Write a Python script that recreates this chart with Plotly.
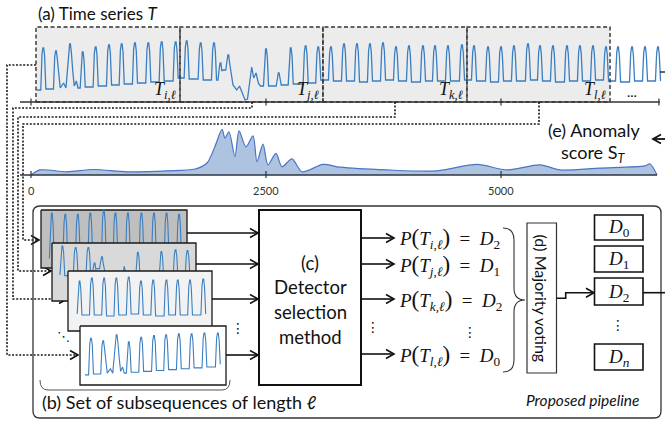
import plotly.graph_objects as go

W, H = 665, 424

# ---------------- data ----------------
# (a) time series T: peak positions (sample index), peak heights, valley level after each peak
PEAK_T = [131, 266, 415, 550, 688, 830, 965, 1106, 1248, 1390, 1539,
          1656, 1805, 1947, 2016, 2099, 2500, 2635, 2763, 2922, 3056,
          3191, 3330, 3468, 3606, 3745, 3883, 4021, 4170, 4298, 4436, 4585, 4713, 4862,
          5000, 5138, 5287, 5415, 5553, 5702, 5840, 5979, 6117, 6245, 6394, 6532, 6670]
PEAK_H = [54, 51, 58, 50, 55, 57, 58, 59, 59, 60, 60,
          61, 59, 59, 39, 47, 53, 29, 54, 56, 55,
          55, 58, 58, 58, 59, 55, 56, 56, 56, 56, 57, 56, 55,
          55, 56, 58, 56, 56, 56, 56, 56, 55, 55, 55, 55, 55]
VALLEY = [13, 14, 15, 15, 16, 17, 18, 19, 20, 21, 24,
          23, 22, 22, 32, 16, 16, 17, 18, 19, 22,
          21, 21, 20, 21, 22, 21, 20, 21, 21, 21, 22, 21, 20,
          21, 21, 22, 21, 20, 21, 21, 22, 21, 20, 21, 21, 21]
START_T = [64, 104]
START_V = [12, 12]
# irregular stretches (replace the flat valley after the given peak index)
IRREG_1_T = [311, 346, 372]
IRREG_1_V = [14, 19, 14]
IRREG_2_T = [445, 460, 482, 500, 523]
IRREG_2_V = [30, 16, 21, 14, 14]
IRREG_15_T = [2149, 2188, 2218, 2252, 2277, 2303, 2324, 2348, 2369, 2394, 2418, 2441, 2473]
IRREG_15_V = [17, 12, 16, 7, 2, 3, 18, 35, 24, 29, 19, 16, 16]

# (e) anomaly score S_T
SCORE_T = [0, 96, 383, 660, 1021, 1447, 1745, 1872, 1957, 2032, 2064, 2106, 2170, 2213,
           2287, 2362, 2404, 2468, 2521, 2606, 2670, 2777, 2883, 3106, 3287, 3787, 4319,
           4745, 5064, 5415, 5628, 6053, 6532, 6585, 6660]
SCORE_V = [0, 0.11, 0.07, 0.12, 0.07, 0.09, 0.13, 0.26, 0.62, 0.99, 0.80, 0.94, 0.40, 0.96,
           0.61, 0.85, 0.29, 0.67, 0.22, 0.47, 0.18, 0.35, 0.07, 0.23, 0.17, 0.11, 0.09,
           0.23, 0.11, 0.22, 0.11, 0.15, 0.20, 0.24, 0.0]

AXIS_TICKS = [0, 2500, 5000]
TICK_LABELS = ["0", "2500", "5000"]
AXIS_END = 6680
BOX_T = [53, 1585, 3106, 4638, 6160]          # window boundaries of T_i, T_j, T_k, T_l
BOX_NAMES = ["i", "j", "k", "l"]
P_NAMES = ["i", "j", "k", "l"]
P_DET = ["2", "1", "2", "0"]
D_NAMES = ["0", "1", "2", "<i>n</i>"]

# ---------------- helpers ----------------
SANS = "Lato"
SERIF = "Liberation Serif"
BLUE = "#3a7fc1"
PX0, PX_PER = 31.0, 235.0 / 2500.0


def t2px(t):
    return PX0 + t * PX_PER


def px2t(px):
    return (px - PX0) / PX_PER


def fx(px):
    return px / W


def fy(py):
    return 1 - py / H


shapes = []
annotations = []


def sline(x0, y0, x1, y1, color="#222", width=1.5, dash=None, layer="above"):
    shapes.append(dict(type="line", xref="paper", yref="paper", x0=fx(x0), y0=fy(y0),
                       x1=fx(x1), y1=fy(y1), layer=layer,
                       line=dict(color=color, width=width, dash=dash)))


def srect(x0, y0, x1, y1, color="#222", width=1.5, fill="rgba(0,0,0,0)", dash=None,
          layer="above"):
    shapes.append(dict(type="rect", xref="paper", yref="paper", x0=fx(x0), y0=fy(y1),
                       x1=fx(x1), y1=fy(y0), layer=layer, fillcolor=fill,
                       line=dict(color=color, width=width if width else 0, dash=dash)))


def spath(cmds, color="#222", width=1.5, dash=None, layer="above", fill=None):
    out = []
    for c in cmds:
        op, nums = c[0], c[1:]
        pts = []
        for i in range(0, len(nums), 2):
            pts.append("%.5f,%.5f" % (fx(nums[i]), fy(nums[i + 1])))
        out.append(op + " " + " ".join(pts))
    d = dict(type="path", xref="paper", yref="paper", path=" ".join(out), layer=layer,
             line=dict(color=color, width=width, dash=dash))
    if fill:
        d["fillcolor"] = fill
    shapes.append(d)


def head(x, y, direction="right", color="#111", width=1.6, layer="above", L=8, h=4.5):
    s = -1 if direction == "right" else 1
    spath([("M", x + s * L, y - h), ("L", x, y), ("L", x + s * L, y + h)],
          color=color, width=width, layer=layer)


def arrow(x0, y0, x1, y1, color="#111", width=1.6, layer="above"):
    sline(x0, y0, x1 - 1, y1, color=color, width=width, layer=layer)
    head(x1, y1, "right" if x1 > x0 else "left", color=color, width=width, layer=layer)


def ann(x, y, text, size=15, family=SANS, xanchor="center", yanchor="middle",
        angle=0, color="#111"):
    annotations.append(dict(x=fx(x), y=fy(y), xref="paper", yref="paper", text=text,
                            showarrow=False, xanchor=xanchor, yanchor=yanchor,
                            textangle=angle, font=dict(size=size, family=family,
                                                       color=color)))


# ---------------- build the series polyline ----------------
IRREG = {1: (IRREG_1_T, IRREG_1_V), 2: (IRREG_2_T, IRREG_2_V), 15: (IRREG_15_T, IRREG_15_V)}
ser_t, ser_v = list(START_T), list(START_V)
n = len(PEAK_T)
for k in range(n):
    p, h = PEAK_T[k], PEAK_H[k]
    for dt, dv in [(-14, -6), (-9, -1), (-4, 0), (4, 0), (8, -2), (14, -8)]:
        ser_t.append(p + dt)
        ser_v.append(h + dv)
    if k in IRREG:
        ser_t += IRREG[k][0]
        ser_v += IRREG[k][1]
    elif k < n - 1:
        ser_t += [p + 27, PEAK_T[k + 1] - 27]
        ser_v += [VALLEY[k], VALLEY[k]]
    else:
        ser_t += [p + 27]
        ser_v += [VALLEY[k]]

fig = go.Figure()

# top time series (subplot 1)
fig.add_trace(go.Scatter(x=ser_t, y=ser_v, mode="lines", line=dict(color=BLUE, width=1.3),
                         hoverinfo="skip", xaxis="x", yaxis="y"))
# anomaly score (subplot 2)
fig.add_trace(go.Scatter(x=SCORE_T, y=SCORE_V, mode="lines", fill="tozeroy",
                         fillcolor="#aec3e0", line=dict(color="#4a74c4", width=1.2,
                                                        shape="spline", smoothing=0.8),
                         hoverinfo="skip", xaxis="x2", yaxis="y2"))

layout_axes = {}
XR = [px2t(20), px2t(665)]
layout_axes["xaxis"] = dict(domain=[fx(20), 1], range=XR, visible=False, anchor="y")
layout_axes["yaxis"] = dict(domain=[fy(102), fy(27)], range=[0, 75], visible=False,
                            anchor="x")
layout_axes["xaxis2"] = dict(domain=[fx(20), 1], range=XR, visible=False, anchor="y2")
layout_axes["yaxis2"] = dict(domain=[fy(175), fy(120)], range=[0, 55 / 46.0],
                             visible=False, anchor="x2")

# thumbnail cards (subplots 3..6), later ones drawn on top
CARDS = [  # px box, fill, source window index, value at top / bottom edge
    ((41, 210, 187, 268), "#bfbfbf", 3, (58.3, 14.9)),
    ((52, 243, 196, 301), "#d9d9d9", 1, (64.8, -9.5)),
    ((68, 271, 212, 331), "#f2f2f2", 2, (65.0, 5.0)),
    ((80, 326, 226, 385), "#ffffff", 0, (68.0, 0.4)),
]
for ci, (box, fillc, win, (vt, vb)) in enumerate(CARDS):
    x0, y0, x1, y1 = box
    ta, tb = BOX_T[win], BOX_T[win + 1]
    sx = (tb - ta) / ((x1 - 4) - (x0 + 4))

    def t_at(px, ta=ta, x0=x0, sx=sx):
        return ta + (px - (x0 + 4)) * sx

    sy = (vt - vb) / (y1 - y0)

    def v_at(py, vt=vt, y0=y0, sy=sy):
        return vt - (py - y0) * sy

    ax_id = ci + 3
    xa, ya = "x%d" % ax_id, "y%d" % ax_id
    layout_axes["xaxis%d" % ax_id] = dict(domain=[fx(x0 - 2), fx(x1 + 2)],
                                          range=[t_at(x0 - 2), t_at(x1 + 2)],
                                          visible=False, anchor=ya)
    layout_axes["yaxis%d" % ax_id] = dict(domain=[fy(y1 + 2), fy(y0 - 2)],
                                          range=[v_at(y1 + 2), v_at(y0 - 2)],
                                          visible=False, anchor=xa)
    rx = [t_at(x0), t_at(x1), t_at(x1), t_at(x0), t_at(x0)]
    ry = [vt, vt, vb, vb, vt]
    fig.add_trace(go.Scatter(x=rx, y=ry, mode="lines", fill="toself", fillcolor=fillc,
                             line=dict(color="#1a1a1a", width=1.3), hoverinfo="skip",
                             xaxis=xa, yaxis=ya))
    seg = [(t, v) for t, v in zip(ser_t, ser_v) if ta <= t <= tb]
    fig.add_trace(go.Scatter(x=[s[0] for s in seg], y=[s[1] for s in seg], mode="lines",
                             line=dict(color=BLUE, width=1.1), hoverinfo="skip",
                             xaxis=xa, yaxis=ya))

# ---------------- shapes ----------------
# window boxes on the time series
for i in range(4):
    bx0, bx1 = t2px(BOX_T[i]), t2px(BOX_T[i + 1])
    srect(bx0, 27, bx1, 102, width=0, fill="#ececec", layer="below")
for i in range(4):
    bx0, bx1 = t2px(BOX_T[i]), t2px(BOX_T[i + 1])
    srect(bx0, 27, bx1, 102, color="#333", width=1.4, dash="4px,2.5px", layer="above")

# top axis
sline(20, 102, t2px(AXIS_END) + 1, 102, color="#333", width=1.4)
for t in AXIS_TICKS + [AXIS_END]:
    sline(t2px(t), 98.5, t2px(t), 105.5, color="#333", width=1.2)
sline(660, 72, 665, 72, color="#222", width=1.4)

# anomaly axis
sline(20, 175, t2px(SCORE_T[-1]), 175, color="#2d3440", width=1.4)
for t, lab in zip(AXIS_TICKS, TICK_LABELS):
    sline(t2px(t), 171, t2px(t), 178, color="#2d3440", width=1.2)
    ann(t2px(t), 190, lab, size=11, color="#333")

# dotted connectors from windows to the cards
DOT = "2px,1.6px"
DC = "#1a1a1a"
spath([("M", t2px(BOX_T[0]), 65), ("L", 7, 65), ("L", 7, 355), ("L", 77, 355)],
      color=DC, width=1.6, dash=DOT, layer="below")
head(78, 355, color="#111", layer="below")
spath([("M", 252, 102), ("L", 252, 108), ("L", 13, 108), ("L", 13, 299), ("L", 66, 299)],
      color=DC, width=1.6, dash=DOT, layer="below")
head(67, 299, color="#111", layer="below")
spath([("M", 395, 102), ("L", 395, 117), ("L", 18, 117), ("L", 18, 271), ("L", 50, 271)],
      color=DC, width=1.6, dash=DOT, layer="below")
head(51, 271, color="#111", layer="below")
spath([("M", 539, 102), ("L", 539, 124), ("L", 23, 124), ("L", 23, 240), ("L", 37, 240)],
      color=DC, width=1.6, dash=DOT, layer="below")
head(39, 240, color="#111", layer="below")

# pipeline rounded frame
spath([("M", 40, 206), ("L", 654, 206), ("Q", 661, 206, 661, 213), ("L", 661, 411),
       ("Q", 661, 418, 654, 418), ("L", 40, 418), ("Q", 33, 418, 33, 411), ("L", 33, 213),
       ("Q", 33, 206, 40, 206), ("Z",)], color="#333", width=1.3, layer="below")

# bracket under the cards
spath([("M", 40, 380), ("Q", 40, 390, 48, 390), ("L", 222, 390), ("Q", 230, 390, 230, 380)],
      color="#555", width=1.0, layer="below")

# detector selection box
srect(259, 210, 361, 385, color="#111", width=2.0, fill="#ffffff", layer="below")

# inputs to detector
for (xs, ys) in [(187, 233), (196, 264), (212, 299), (226, 355)]:
    arrow(xs, ys, 258, ys)
# outputs
OUT_Y = [238, 264, 299, 354]
for ys in OUT_Y:
    arrow(361, ys, 394, ys)

# right brace
spath([("M", 503, 228), ("Q", 514, 228, 514, 240), ("L", 514, 288),
       ("Q", 514, 300, 525, 300), ("Q", 514, 300, 514, 312), ("L", 514, 360),
       ("Q", 514, 372, 503, 372)], color="#333", width=1.1)

# majority voting box
srect(527, 223, 556.5, 373, color="#333", width=1.2, fill="#ffffff")
# step connector to D2
spath([("M", 556.5, 298.3), ("L", 565.7, 298.3), ("L", 565.7, 292.7), ("L", 593, 292.7)],
      color="#111", width=1.6)
head(594, 292.7)

# detector boxes
D_BOX_Y = [(215, 240), (246, 272), (278, 305), (344, 370)]
for (a, b) in D_BOX_Y:
    srect(594.5, a, 643, b, color="#111", width=1.6, fill="#ffffff")
sline(643, 292.7, 665, 292.7, color="#111", width=1.6)

# arrow back to the anomaly score
sline(655, 139, 666, 139, color="#111", width=1.8)
head(653, 139, "left", width=1.8)

# ---------------- text ----------------
ann(36, 13, "(a) Time series <i>T</i>", size=17, xanchor="left")
BOX_R = [t2px(BOX_T[i + 1]) for i in range(4)]
for r, nm in zip(BOX_R, BOX_NAMES):
    ann(r - 2, 90, "<i>T</i><sub><i>%s</i>,<i>ℓ</i></sub>" % nm, size=18, family=SERIF,
        xanchor="right")
ann(632, 91, "...", size=14)

ann(594, 130, "(e) Anomaly", size=18)
ann(593, 153, "score S<sub><i>T</i></sub>", size=18)

for txt, yy in [("(c)", 263), ("Detector", 287), ("selection", 312), ("method", 337)]:
    ann(310, yy, txt, size=18.5)

LP = '<span style="font-size:23px">(</span>'
RP = '<span style="font-size:23px">)</span>'
for nm, dd, yy in zip(P_NAMES, P_DET, OUT_Y):
    ann(397, yy + 1,
        "<i>P</i>" + LP + "<i>T</i><sub><i>%s</i>,<i>ℓ</i></sub>" % nm + RP
        + "\u00a0\u00a0=\u00a0\u00a0<i>D</i><sub>%s</sub>" % dd,
        size=19, family=SERIF, xanchor="left")

ann(541.5, 298, "(d) Majority voting", size=16, angle=90)

for (a, b), nm in zip(D_BOX_Y, D_NAMES):
    ann(618.8, (a + b) / 2 + 1, "<i>D</i><sub>%s</sub>" % nm, size=19, family=SERIF)

for (xx, yy) in [(238, 328), (373, 327), (470, 332), (618, 325)]:
    ann(xx, yy, "⋮", size=14, family="DejaVu Sans")
ann(63, 336, "⋱", size=13, family="DejaVu Sans")

ann(40, 402, "(b) Set of subsequences of length <i>ℓ</i>", size=18, xanchor="left")
ann(641, 400, "<i>Proposed pipeline</i>", size=15.5, xanchor="right")

fig.update_layout(width=W, height=H, margin=dict(l=0, r=0, t=0, b=0),
                  paper_bgcolor="#ffffff", plot_bgcolor="rgba(0,0,0,0)",
                  showlegend=False, shapes=shapes, annotations=annotations,
                  **layout_axes)
fig.write_html("out.html", config={"displayModeBar": False},
               post_script="document.body.style.margin='0px';document.body.style.padding='0px';")
